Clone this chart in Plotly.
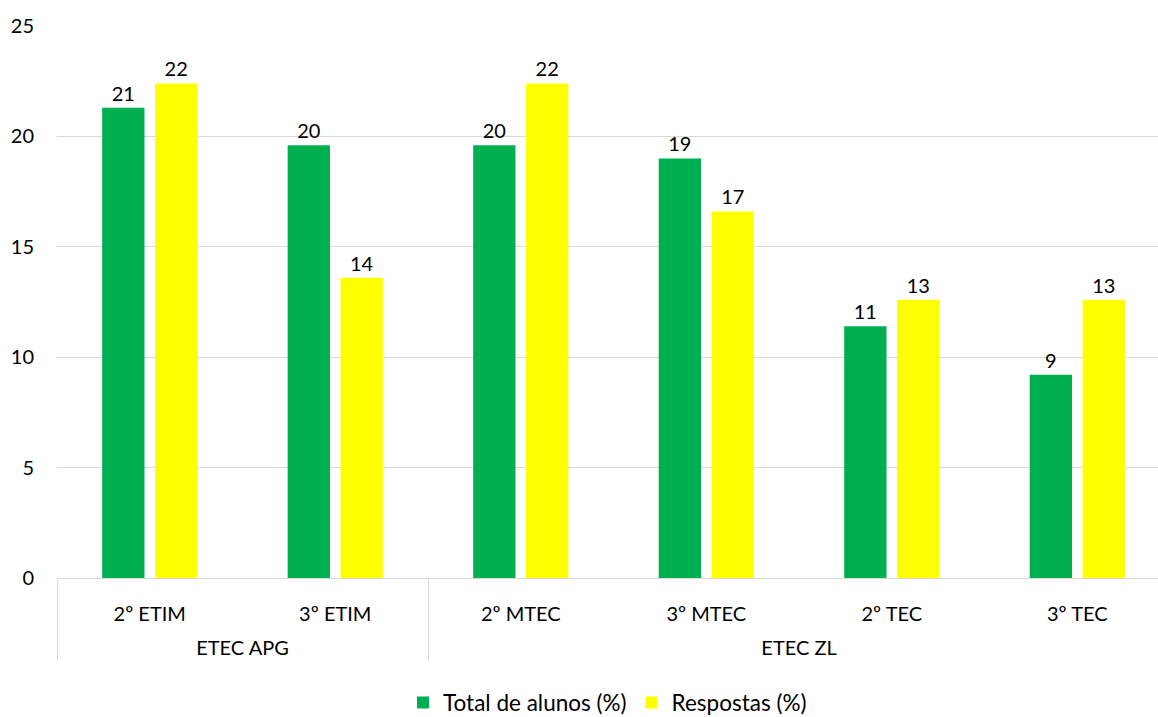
import plotly.graph_objects as go

schools = ["ETEC APG", "ETEC APG", "ETEC ZL", "ETEC ZL", "ETEC ZL", "ETEC ZL"]
classes = ["2º ETIM", "3º ETIM", "2º MTEC", "3º MTEC", "2º TEC", "3º TEC"]
total_alunos = [21.3, 19.6, 19.6, 19.0, 11.4, 9.2]
respostas = [22.4, 13.6, 22.4, 16.6, 12.6, 12.6]

FONT = "Lato"
FS = 20
# a leading line break moves the school row lower, as in the original
x = [["<br>" + s for s in schools], classes]

fig = go.Figure()
fig.add_trace(go.Bar(
    x=x, y=total_alunos, name="Total de alunos (%)",
    marker=dict(color="#00b050", line=dict(width=0)),
    text=[f"{v:.0f}" for v in total_alunos], textposition="outside",
    textfont=dict(family=FONT, size=FS, color="#000000"), cliponaxis=False,
))
fig.add_trace(go.Bar(
    x=x, y=respostas, name="Respostas (%)",
    marker=dict(color="#ffff00", line=dict(width=0)),
    text=[f"{v:.0f}" for v in respostas], textposition="outside",
    textfont=dict(family=FONT, size=FS, color="#000000"), cliponaxis=False,
))

fig.update_layout(
    width=1158, height=717,
    margin=dict(l=57, r=0, t=26, b=139, autoexpand=False),
    paper_bgcolor="white", plot_bgcolor="white",
    barmode="group", bargap=0.43, bargroupgap=0.2,
    font=dict(family=FONT, size=FS, color="#000000"),
    showlegend=True,
    legend=dict(orientation="h", x=0.5, xanchor="center", y=-0.226, yanchor="middle",
                font=dict(family=FONT, size=22.5), itemsizing="constant"),
    xaxis=dict(type="multicategory", range=[-0.5, 5.435], automargin=False,
               showline=True, linecolor="#d9d9d9", linewidth=1,
               showdividers=True, dividercolor="#d9d9d9", dividerwidth=1,
               ticks="", showgrid=False, ticklabelstandoff=18,
               tickfont=dict(family=FONT, size=FS)),
    yaxis=dict(range=[0, 25], dtick=5, showgrid=True, gridcolor="#d9d9d9", gridwidth=1,
               zeroline=False, showline=False, ticks="", ticklabelstandoff=22,
               automargin=False, tickfont=dict(family=FONT, size=FS)),
)

fig.write_html("out.html")
